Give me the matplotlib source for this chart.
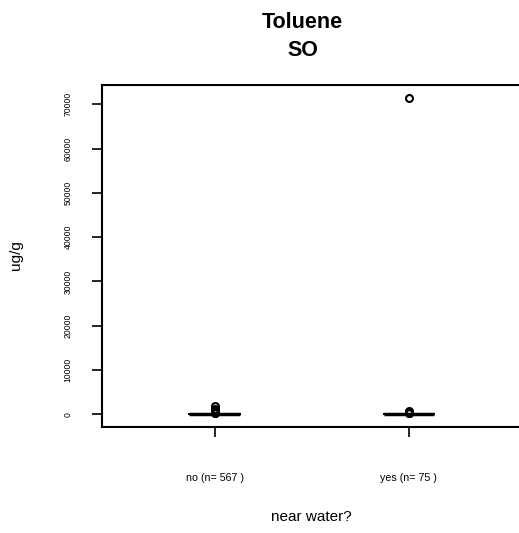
import matplotlib
matplotlib.use("Agg")
import matplotlib.pyplot as plt

plt.rcParams['font.family'] = ['Liberation Sans', 'DejaVu Sans']

# group labels and summary stats (ug/g)
groups = ["no (n= 567 )", "yes (n= 75 )"]
medians = [5, 5]
q1 = [0, 0]
q3 = [40, 40]
whislo = [0, 0]
whishi = [100, 100]
fliers = [
    [1800, 1300, 1000, 800, 600, 450, 350, 250],
    [700, 550, 400, 300, 250, 71500],
]
yticks = [0, 10000, 20000, 30000, 40000, 50000, 60000, 70000]

stats = []
for i, g in enumerate(groups):
    stats.append({"label": g, "med": medians[i], "q1": q1[i], "q3": q3[i],
                  "whislo": whislo[i], "whishi": whishi[i], "fliers": fliers[i]})

fig = plt.figure(figsize=(5.19, 5.33), dpi=100)
ax = fig.add_axes([102 / 519, 1 - 427 / 533, 419.5 / 519, 342 / 533])

ax.bxp(stats, positions=[1, 2], widths=0.26, showcaps=True,
       boxprops=dict(color="black", linewidth=1.2),
       medianprops=dict(color="black", linewidth=2.5),
       whiskerprops=dict(color="black", linewidth=1.2, linestyle="--"),
       capprops=dict(color="black", linewidth=1.2),
       flierprops=dict(marker="o", markerfacecolor="none", markeredgecolor="black",
                       markersize=5, markeredgewidth=1.5))

ax.set_xlim(0.42, 2.58)
ax.set_ylim(-2860, 74360)
ax.set_yticks(yticks)
ax.set_yticklabels([str(v) for v in yticks], rotation=90, va="center", fontsize=6.2)
ax.set_xticks([1, 2])
ax.set_xticklabels(groups, fontsize=7.7)
ax.tick_params(axis="x", length=7, width=1.2, pad=26)
ax.tick_params(axis="y", length=7, width=1.2, pad=14)
for s in ax.spines.values():
    s.set_linewidth(1.5)

fig.text(0.583, 1 - 22 / 533, "Toluene", ha="center", va="center",
         fontsize=15.5, fontweight="bold")
fig.text(0.583, 1 - 50 / 533, "SO", ha="center", va="center",
         fontsize=15.5, fontweight="bold")
fig.text(311 / 519, 1 - 517 / 533, "near water?", ha="center", va="center", fontsize=11)
fig.text(16 / 519, 1 - 255 / 533, "ug/g", ha="center", va="center", rotation=90, fontsize=11)

fig.savefig("out.png", dpi=100)
